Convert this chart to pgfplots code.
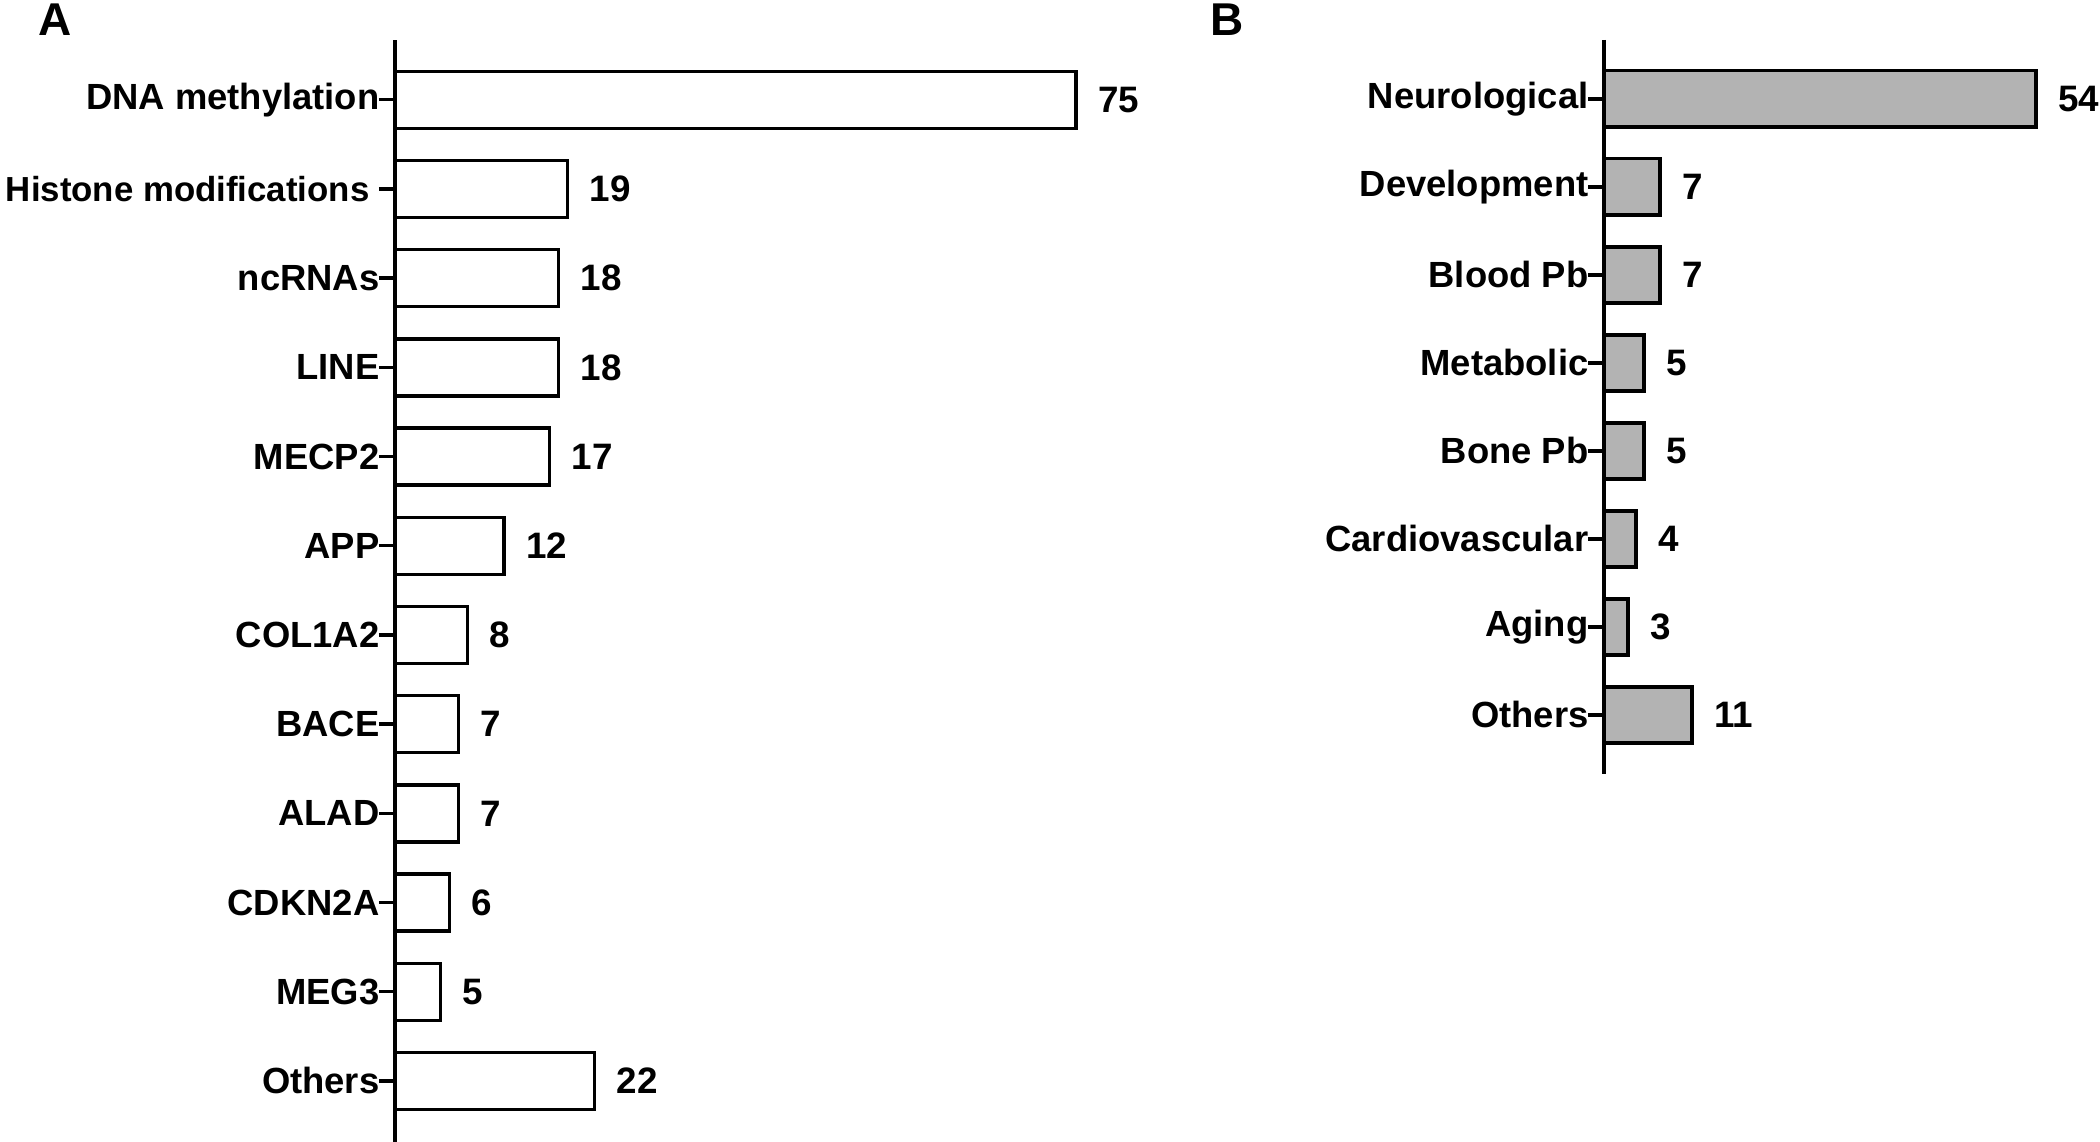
\documentclass[border=0pt]{standalone}
\usepackage{fontspec}
\setmainfont{Liberation Sans}
\usepackage{pgfplots}
\pgfplotsset{compat=1.18}
\definecolor{bargray}{RGB}{179,179,179}
\begin{document}
\begin{tikzpicture}
\path[use as bounding box] (0,0) rectangle (525pt,-285.5pt);
\pgfplotsset{
  mystyle/.style={
    xbar, bar width=0.64,
    axis y line=left, axis x line=none,
    axis line style={-, line width=0.85pt, black},
    y dir=reverse, xmin=0, clip=false, scale only axis,
    enlargelimits=false,
    tick align=outside, major tick length=4pt,
    tick style={line width=0.85pt, black},
    yticklabel style={font=\bfseries\fontsize{9.1}{10}\selectfont, inner sep=0pt, xshift=0.3pt},
    nodes near coords,
    nodes near coords style={font=\bfseries\fontsize{9.2}{10}\selectfont, anchor=west, xshift=1.8pt, black},
    /pgf/number format/assume math mode=true,
  }
}
\node[font=\bfseries\fontsize{11.5}{12}\selectfont] at (13.9pt,-5pt) {A};
\node[font=\bfseries\fontsize{11.5}{12}\selectfont] at (306.7pt,-5pt) {B};
\begin{axis}[mystyle,
  at={(98.75pt,-10pt)}, anchor=north west,
  x=2.27pt, y=22.3pt, xmax=85,
  ymin=-0.67, ymax=11.68,
  ytick={0,...,11},
  yticklabels={DNA methylation,{\fontsize{8.7}{10}\selectfont Histone modifications\kern2.5pt},ncRNAs,LINE,MECP2,APP,COL1A2,BACE,ALAD,CDKN2A,MEG3,Others},
]
\addplot[draw=black, fill=white, line width=0.85pt] coordinates {
(75,0) (19,1) (18,2) (18,3) (17,4) (12,5) (8,6) (7,7) (7,8) (6,9) (5,10) (22,11)};
\end{axis}
\begin{axis}[mystyle,
  at={(401pt,-10pt)}, anchor=north west,
  x=2.0pt, y=22pt, xmax=60,
  ymin=-0.67, ymax=7.67,
  ytick={0,...,7},
  yticklabels={Neurological,Development,Blood Pb,Metabolic,Bone Pb,Cardiovascular,Aging,Others},
]
\addplot[draw=black, fill=bargray, line width=0.85pt] coordinates {
(54,0) (7,1) (7,2) (5,3) (5,4) (4,5) (3,6) (11,7)};
\end{axis}
\end{tikzpicture}
\end{document}
